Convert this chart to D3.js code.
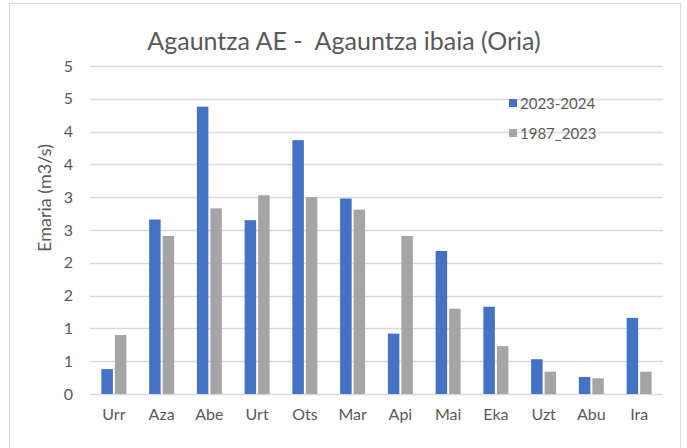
<!DOCTYPE html>
<html>
<head>
    <script src="https://d3js.org/d3.v7.min.js"></script>
    <style>
        body { margin: 0; background: #fff; }
        text { font-family: Lato, "Open Sans", sans-serif; fill: #595959; }
    </style>
</head>
<body>
    <svg id="mysvg" width="687" height="448"></svg>
    <script>
        var svg = d3.select("svg");
        var margin = { top: 66, bottom: 54, left: 90, right: 24 };
        var width = 687, height = 448;

        // data
        var months = ["Urr", "Aza", "Abe", "Urt", "Ots", "Mar", "Api", "Mai", "Eka", "Uzt", "Abu", "Ira"];
        var series = ["2023-2024", "1987_2023"];
        var v2023 = [0.38, 2.66, 4.38, 2.65, 3.87, 2.98, 0.92, 2.18, 1.33, 0.53, 0.26, 1.16];
        var v1987 = [0.90, 2.41, 2.83, 3.03, 3.00, 2.81, 2.41, 1.30, 0.73, 0.34, 0.24, 0.34];
        var tickValues = [0, 0.5, 1, 1.5, 2, 2.5, 3, 3.5, 4, 4.5, 5];
        var tickLabels = ["0", "1", "1", "2", "2", "3", "3", "4", "4", "5", "5"];
        var colors = ["#4472C4", "#A5A5A5"];

        var innerW = width - margin.left - margin.right;
        var innerH = height - margin.top - margin.bottom;

        // outer frame
        svg.append("rect")
            .attr("x", 9.5).attr("y", 3.5)
            .attr("width", 671).attr("height", 450)
            .attr("fill", "none")
            .attr("stroke", "#D9D9D9");

        var xScale = d3.scaleBand().domain(months).range([0, innerW]);
        var yScale = d3.scaleLinear().domain([0, 5]).range([innerH, 0]);

        var g = svg.append("g")
            .attr("transform", "translate(" + margin.left + "," + margin.top + ")");

        // gridlines
        g.selectAll(".grid")
            .data(tickValues)
            .enter()
            .append("line")
            .attr("x1", 0).attr("x2", innerW)
            .attr("y1", d => Math.round(yScale(d)) + 0.5)
            .attr("y2", d => Math.round(yScale(d)) + 0.5)
            .attr("stroke", "#D9D9D9")
            .attr("stroke-width", 1.5);

        // y axis labels
        var yAxis = d3.axisLeft(yScale)
            .tickValues(tickValues)
            .tickFormat((d, i) => tickLabels[i])
            .tickSize(0)
            .tickPadding(17);
        var ya = g.append("g").call(yAxis);
        ya.select(".domain").remove();
        ya.selectAll("text").style("font-size", "16px").style("font-family", "Lato").attr("fill", "#595959");

        // x axis labels
        var xAxis = d3.axisBottom(xScale).tickSize(0).tickPadding(15);
        var xa = g.append("g")
            .attr("transform", "translate(0," + innerH + ")")
            .call(xAxis);
        xa.select(".domain").remove();
        xa.selectAll("text").style("font-size", "16px").style("font-family", "Lato").attr("fill", "#595959");

        // bars
        var barW = 11.5, gap = 2;
        [v2023, v1987].forEach(function (vals, s) {
            g.selectAll(".bar" + s)
                .data(vals)
                .enter()
                .append("rect")
                .attr("x", (d, i) => xScale(months[i]) + xScale.bandwidth() / 2 - barW - gap / 2 + s * (barW + gap))
                .attr("y", d => yScale(d))
                .attr("width", barW)
                .attr("height", d => innerH - yScale(d))
                .attr("fill", colors[s]);
        });

        // title
        svg.append("text")
            .attr("x", 344).attr("y", 50)
            .attr("text-anchor", "middle")
            .attr("xml:space", "preserve")
            .style("font-size", "25px")
            .style("white-space", "pre")
            .text("Agauntza AE -  Agauntza ibaia (Oria)");

        // y axis title
        svg.append("text")
            .attr("transform", "translate(51,198) rotate(-90)")
            .attr("text-anchor", "middle")
            .style("font-size", "18px")
            .text("Emaria (m3/s)");

        // legend
        var legend = svg.append("g").attr("transform", "translate(509,99)");
        series.forEach(function (name, i) {
            legend.append("rect")
                .attr("x", 0).attr("y", i * 30)
                .attr("width", 8).attr("height", 8)
                .attr("fill", colors[i]);
            legend.append("text")
                .attr("x", 11).attr("y", i * 30 + 10)
                .style("font-size", "15px")
                .text(name);
        });
    </script>
</body>
</html>
